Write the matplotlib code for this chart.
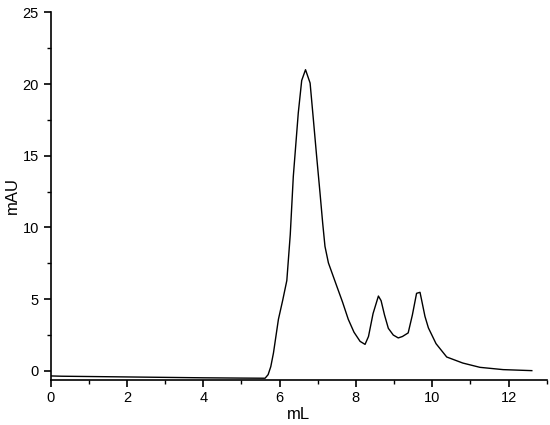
import matplotlib
matplotlib.use("Agg")
import matplotlib.pyplot as plt
from matplotlib.ticker import MultipleLocator

plt.rcParams['font.family'] = ['Liberation Sans', 'DejaVu Sans']

volume_ml = [0.0, 0.3, 1.0, 2.0, 3.0, 4.0, 5.0, 5.62, 5.70, 5.77, 5.84, 5.97, 6.08,
             6.19, 6.28, 6.36, 6.49, 6.58, 6.68, 6.80, 6.88, 6.97, 7.06, 7.13, 7.19,
             7.28, 7.50, 7.65, 7.80, 7.95, 8.11, 8.24, 8.33, 8.45, 8.59, 8.66, 8.75,
             8.85, 8.98, 9.11, 9.22, 9.37, 9.48, 9.59, 9.68, 9.72, 9.81, 9.90, 10.1,
             10.38, 10.8, 11.25, 11.86, 12.61]
absorbance_mau = [-0.35, -0.37, -0.39, -0.42, -0.45, -0.48, -0.50, -0.51, -0.26, 0.3,
                  1.25, 3.6, 4.9, 6.3, 9.5, 13.56, 17.98, 20.25, 21.0, 20.07, 17.7,
                  15.0, 12.4, 10.3, 8.68, 7.53, 5.9, 4.8, 3.6, 2.7, 2.06, 1.85, 2.4,
                  4.0, 5.22, 4.9, 3.9, 2.97, 2.5, 2.3, 2.4, 2.65, 3.9, 5.41, 5.48, 4.97,
                  3.8, 3.0, 1.9, 0.97, 0.55, 0.25, 0.09, 0.02]

fig = plt.figure(figsize=(5.5, 4.25), dpi=100)
ax = fig.add_axes([0.092, 0.107, 0.902, 0.864])
ax.plot(volume_ml, absorbance_mau, color='black', linewidth=1.0)

ax.set_xlim(0, 13)
ax.set_ylim(-0.6, 25)
ax.xaxis.set_major_locator(MultipleLocator(2))
ax.xaxis.set_minor_locator(MultipleLocator(1))
ax.yaxis.set_major_locator(MultipleLocator(5))
ax.yaxis.set_minor_locator(MultipleLocator(2.5))
for s in ['top', 'right']:
    ax.spines[s].set_visible(False)
for s in ['left', 'bottom']:
    ax.spines[s].set_linewidth(1.2)
ax.tick_params(which='major', direction='out', length=5, width=1.2, labelsize=10.5)
ax.tick_params(which='minor', direction='out', length=3, width=1.0)
ax.set_xlabel('mL', fontsize=12, labelpad=1)
ax.set_ylabel('mAU', fontsize=12, labelpad=2)

fig.savefig('out.png', dpi=100)
